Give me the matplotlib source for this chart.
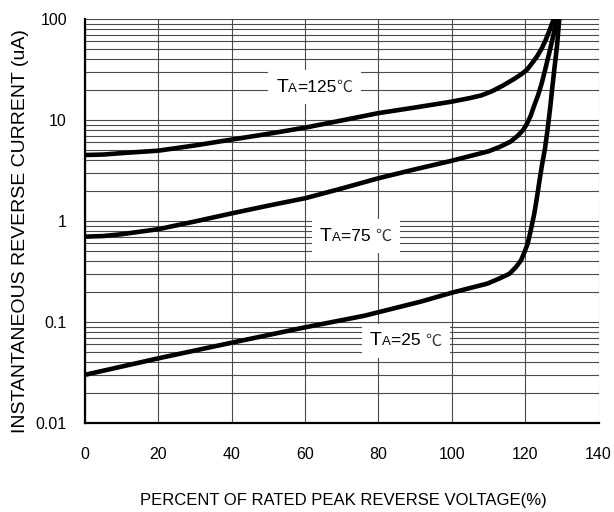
import matplotlib
matplotlib.use("Agg")
import matplotlib.pyplot as plt
from matplotlib.offsetbox import TextArea, HPacker, AnnotationBbox
from matplotlib.ticker import FixedLocator, NullFormatter, LogLocator

plt.rcParams['font.family'] = ['Liberation Sans', 'DejaVu Sans']

# Data
x_125 = [0, 5, 10, 20, 30, 40, 50, 60, 70, 80, 90, 100, 105, 108, 111, 114, 117, 119, 120.5, 122, 123.3, 124.5, 125.6, 126.7, 127.8]
y_125 = [4.5, 4.55, 4.7, 4.97, 5.6, 6.4, 7.3, 8.4, 9.9, 11.7, 13.3, 15.2, 16.5, 17.5, 19.3, 22, 25.5, 28.5, 31.5, 37, 43, 51, 62, 78, 100]

x_75 = [0, 5, 10, 20, 30, 40, 50, 60, 70, 80, 90, 100, 110, 113, 116, 118, 119.5, 120.5, 121.5, 122.5, 123.5, 124.5, 125.5, 126.5, 127.6, 128.7]
y_75 = [0.70, 0.71, 0.74, 0.83, 0.99, 1.19, 1.42, 1.68, 2.1, 2.65, 3.25, 3.95, 4.9, 5.4, 6.1, 7.0, 8.0, 9.2, 11, 14, 17.5, 23, 32, 45, 67, 100]

x_25 = [0, 20, 40, 60, 76, 91.5, 100, 109.7, 113, 115.7, 117.5, 118.9, 119.9, 120.7, 121.5, 122.5, 123.2, 123.9, 124.6, 125.4, 126.1, 126.8, 127.4, 128.0, 128.7, 129.3]
y_25 = [0.030, 0.0437, 0.0624, 0.0886, 0.115, 0.159, 0.195, 0.24, 0.27, 0.30, 0.35, 0.41, 0.50, 0.60, 0.80, 1.19, 1.7, 2.5, 3.6, 5.2, 8.0, 13, 21, 33, 55, 100]

x_ticks = [0, 20, 40, 60, 80, 100, 120, 140]
y_ticks = [0.01, 0.1, 1, 10, 100]
y_tick_labels = ["0.01", "0.1", "1", "10", "100"]

labels = [("125", "", 62.5, 21.2), ("75", " ", 73.8, 0.71), ("25", " ", 87.4, 0.0649)]

fig = plt.figure(figsize=(6.14, 5.12), dpi=100)
ax = fig.add_axes([0.1384, 0.1738, 0.9748 - 0.1384, 0.9629 - 0.1738])
ax.set_yscale('log')
ax.set_xlim(0, 140)
ax.set_ylim(0.01, 100)

ax.xaxis.set_major_locator(FixedLocator(x_ticks))
ax.set_xticklabels([str(v) for v in x_ticks])
ax.yaxis.set_major_locator(FixedLocator(y_ticks))
ax.set_yticklabels(y_tick_labels)
ax.yaxis.set_minor_locator(LogLocator(base=10, subs=range(2, 10)))
ax.yaxis.set_minor_formatter(NullFormatter())

ax.grid(True, which='major', axis='both', color='#4a4a4a', lw=0.8)
ax.grid(True, which='minor', axis='y', color='#4a4a4a', lw=0.8)
ax.set_axisbelow(True)
ax.tick_params(which='both', length=0, labelsize=11.5, colors='black')
ax.tick_params(axis='x', pad=17)
ax.tick_params(axis='y', pad=13)

for s in ['top', 'right']:
    ax.spines[s].set_visible(False)
for s in ['left', 'bottom']:
    ax.spines[s].set_linewidth(1.6)
    ax.spines[s].set_color('black')
    ax.spines[s].set_zorder(5)

for xs, ys in [(x_125, y_125), (x_75, y_75), (x_25, y_25)]:
    ax.plot(xs, ys, color='black', lw=3.3, solid_capstyle='butt',
            solid_joinstyle='round', zorder=3, clip_on=True)

for num, sp, lx, ly in labels:
    parts = [
        TextArea("T", textprops=dict(size=14, color='black')),
        TextArea("A", textprops=dict(size=9.5, color='black')),
        TextArea("=" + num + sp, textprops=dict(size=12.5, color='black')),
        TextArea("\u2103", textprops=dict(size=11.5, color='#333333',
                                          family=['Noto Sans CJK SC', 'DejaVu Sans'])),
    ]
    box = HPacker(children=parts, align='baseline', pad=0, sep=0)
    ab = AnnotationBbox(box, (lx, ly), xycoords='data', frameon=True,
                        box_alignment=(0.5, 0.5), pad=0.6,
                        bboxprops=dict(facecolor='white', edgecolor='none'), zorder=4)
    ax.add_artist(ab)

fig.text(0.560, 0.0215, "PERCENT OF RATED PEAK REVERSE VOLTAGE(%)", ha='center', va='center', fontsize=12)
fig.text(0.033, 0.549, "INSTANTANEOUS REVERSE CURRENT (uA)", ha='center', va='center', rotation=90, fontsize=14)

fig.savefig("out.png", dpi=100)
